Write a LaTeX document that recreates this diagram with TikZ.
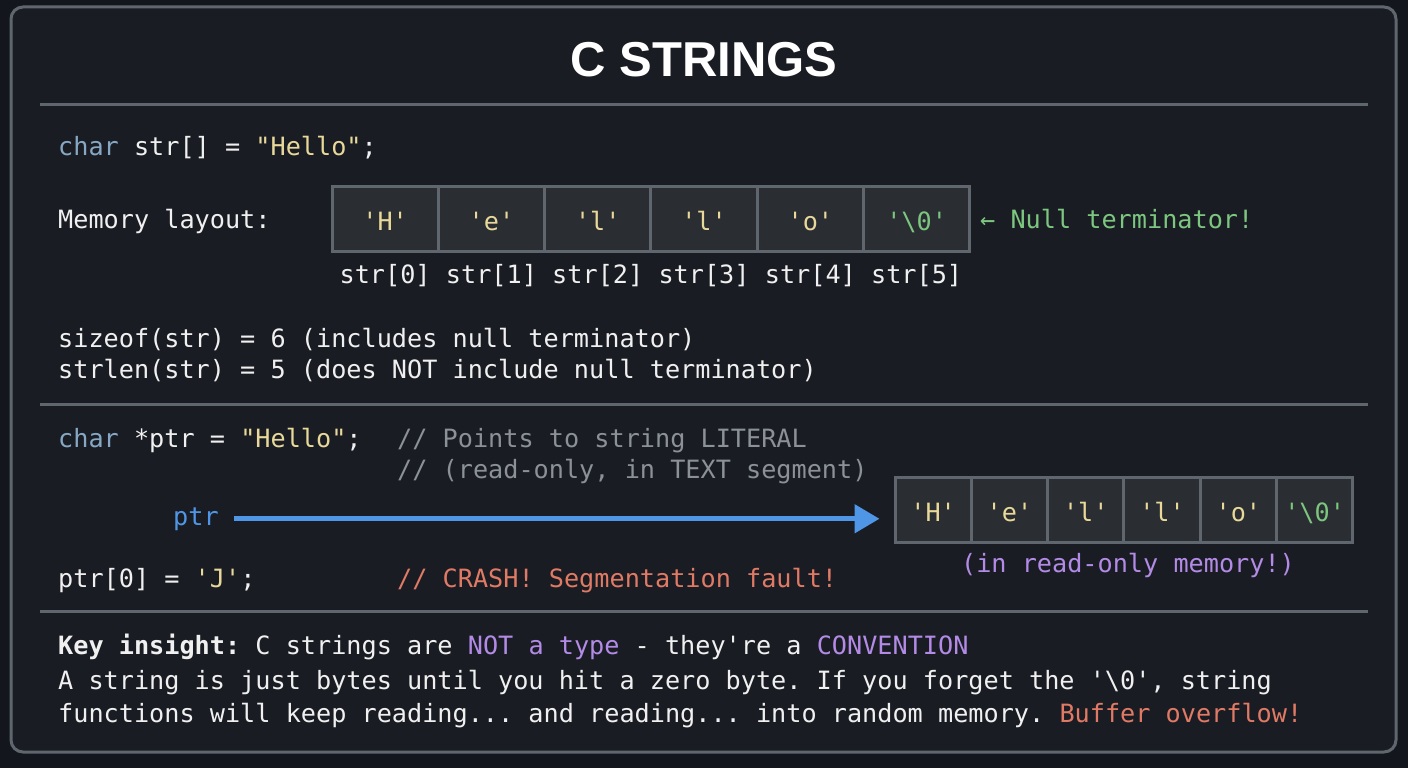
\documentclass[tikz,border=0pt]{standalone}
\usepackage{fontspec}
\setmainfont{DejaVu Sans Mono}
\setmonofont{DejaVu Sans Mono}
\newfontfamily\titlefont{Liberation Sans}
\usetikzlibrary{arrows.meta, positioning}

\definecolor{pagebg}{HTML}{13161C}
\definecolor{panelbg}{HTML}{191C23}
\definecolor{framegray}{HTML}{5F666E}
\definecolor{codewhite}{HTML}{F0F0F0}
\definecolor{kwblue}{HTML}{86A8C4}
\definecolor{strlit}{HTML}{E8D89A}
\definecolor{nullgreen}{HTML}{7CC67F}
\definecolor{commentgray}{HTML}{8C9198}
\definecolor{crashred}{HTML}{E07A65}
\definecolor{hlpurple}{HTML}{B38BE6}
\definecolor{ptrblue}{HTML}{5096E6}
\definecolor{cellfill}{HTML}{2A2D32}

\newcommand{\kwd}[1]{\textcolor{kwblue}{#1}}
\newcommand{\strl}[1]{\textcolor{strlit}{#1}}
\newcommand{\hlp}[1]{\textcolor{hlpurple}{#1}}

\begin{document}
\begin{tikzpicture}[
        x=1pt, y=-1pt,
        title/.style={text=white, font=\titlefont\bfseries\fontsize{49}{58}\selectfont},
        code/.style={anchor=base west, inner sep=0pt, text=codewhite, font=\ttfamily\fontsize{25.2}{30}\selectfont},
        cell/.style={draw=framegray, fill=cellfill, line width=3pt, minimum height=65pt, text height=24pt, text depth=0pt, inner sep=0pt, text=strlit, font=\ttfamily\fontsize{25.2}{30}\selectfont},
        rule/.style={draw=framegray, line width=3pt},
        frame/.style={draw=framegray, fill=panelbg, line width=3pt, rounded corners=12pt},
        ptrline/.style={draw=ptrblue, line width=5pt, -{Triangle[length=25pt, width=28pt]}, shorten <=15pt, shorten >=14pt}
    ]
        \useasboundingbox (0,0) rectangle (1408,768);
        \fill[pagebg] (0,0) rectangle (1408,768);
        \draw[frame] (11,7) rectangle (1396,752);

        % Title
        \node[title] (title) at (704,60) {C STRINGS};
        \draw[rule] (40,104) -- (1368,104);

        % Array on the stack
        \node[code] (decl) at (58,155) {\kwd{char} str[] = \strl{"Hello"};};
        \node[code] (layout) at (58,228) {Memory layout:};
        \foreach \ch [count=\i from 0] in {H,e,l,l,o}
            \node[cell, minimum width=106.3pt] (cell\i) at ({385.15+106.3*\i},218.5) {'\ch'};
        \node[cell, minimum width=106.3pt, text=nullgreen] (cell5) at ({385.15+106.3*5},218.5) {'\textbackslash 0'};
        \foreach \i in {0,...,5}
            \node[code, anchor=base] (idx\i) at ([yshift=-30.5pt]cell\i.south) {str[\i]};
        \node[code, text=nullgreen] (nullnote) at (980,228) {← Null terminator!};

        \node[code] (sizeofln) at (58,347) {sizeof(str) = 6 (includes null terminator)};
        \node[code] (strlenln) at (58,378) {strlen(str) = 5 (does NOT include null terminator)};
        \draw[rule] (40,404) -- (1368,404);

        % Pointer to a literal
        \node[code] (pdecl) at (58,447) {\kwd{char} *ptr = \strl{"Hello"};};
        \node[code, text=commentgray] (pnote1) at (397,447) {// Points to string LITERAL};
        \node[code, text=commentgray] (pnote2) at (397,478) {// (read-only, in TEXT segment)};
        \node[code, text=ptrblue] (ptrlbl) at (173,525) {ptr};
        \foreach \ch [count=\i from 0] in {H,e,l,l,o}
            \node[cell, minimum width=76.3pt] (rocell\i) at ({933.15+76.3*\i},509.5) {'\ch'};
        \node[cell, minimum width=76.3pt, text=nullgreen] (rocell5) at ({933.15+76.3*5},509.5) {'\textbackslash 0'};
        \node[code, anchor=base, text=hlpurple] (ronote) at (1128,572) {(in read-only memory!)};
        \draw[ptrline] (ptrlbl.east) -- (ptrlbl.east -| rocell0.west);

        \node[code] (pwrite) at (58,587) {ptr[0] = \strl{'J'};};
        \node[code, text=crashred] (crash) at (397,587) {// CRASH! Segmentation fault!};
        \draw[rule] (40,611) -- (1368,611);

        % Key insight
        \node[code] (insight1) at (58,654) {\textbf{Key insight:} C strings are \hlp{NOT a type} - they're a \hlp{CONVENTION}};
        \node[code] (insight2) at (58,689) {A string is just bytes until you hit a zero byte. If you forget the '\textbackslash 0', string};
        \node[code] (insight3) at (58,722) {functions will keep reading... and reading... into random memory. \textcolor{crashred}{Buffer overflow!}};
    \end{tikzpicture}
\end{document}
